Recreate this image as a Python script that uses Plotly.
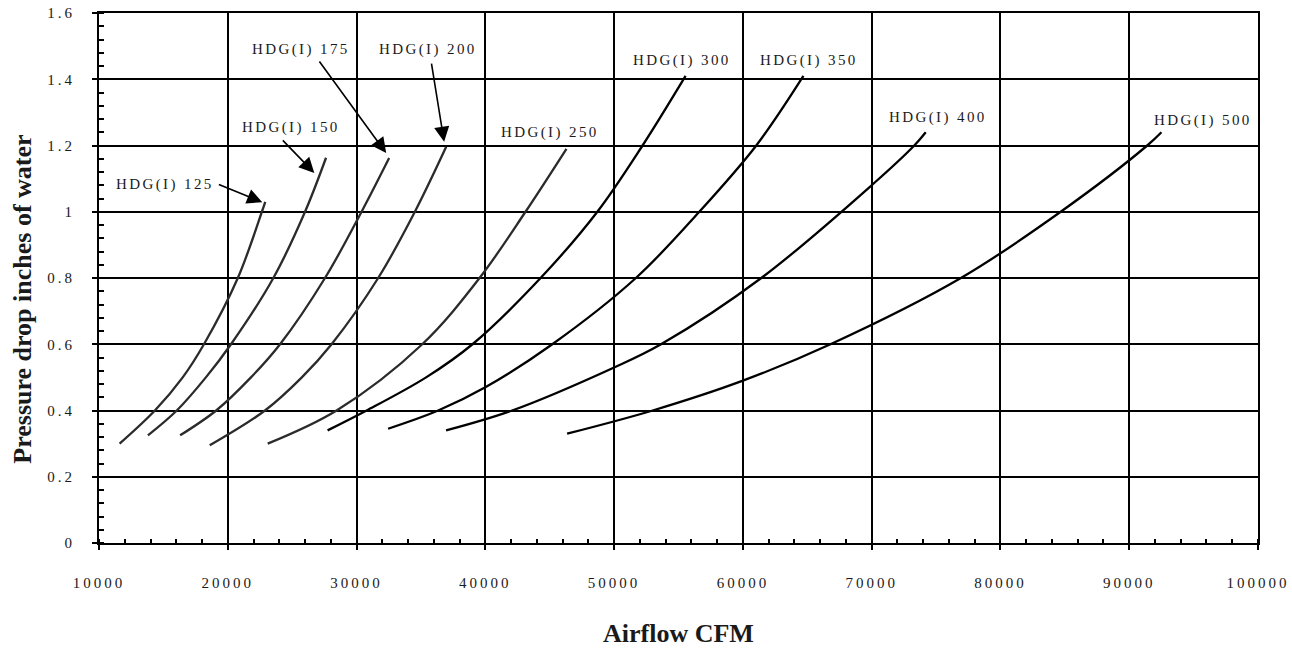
import plotly.graph_objects as go

# ---- data ----
models = ["HDG(I) 125", "HDG(I) 150", "HDG(I) 175", "HDG(I) 200", "HDG(I) 250",
          "HDG(I) 300", "HDG(I) 350", "HDG(I) 400", "HDG(I) 500"]

cfm_125 = [11600, 14340, 16500, 18150, 20780, 22650, 22910]
dp_125 = [0.30, 0.40, 0.50, 0.60, 0.80, 1.00, 1.03]

cfm_150 = [13800, 16040, 18300, 20250, 23540, 26000, 27630]
dp_150 = [0.325, 0.40, 0.50, 0.60, 0.80, 1.00, 1.163]

cfm_175 = [16300, 19100, 21800, 24060, 27550, 30390, 32530]
dp_175 = [0.325, 0.40, 0.50, 0.60, 0.80, 1.00, 1.162]

cfm_200 = [18600, 22890, 25750, 28060, 31680, 34530, 36960]
dp_200 = [0.295, 0.40, 0.50, 0.60, 0.80, 1.00, 1.196]

cfm_250 = [23100, 28450, 35100, 39550, 43120, 46300]
dp_250 = [0.30, 0.40, 0.60, 0.80, 1.00, 1.19]

cfm_300 = [27750, 30780, 35400, 39000, 44290, 48700, 52210, 55550]
dp_300 = [0.34, 0.40, 0.50, 0.60, 0.80, 1.00, 1.20, 1.41]

cfm_350 = [32450, 36340, 40000, 45200, 51690, 56620, 61040, 64700]
dp_350 = [0.345, 0.40, 0.47, 0.60, 0.80, 1.00, 1.20, 1.41]

cfm_400 = [36950, 42080, 50000, 53640, 61430, 70000, 73310, 74200]
dp_400 = [0.34, 0.40, 0.53, 0.60, 0.80, 1.08, 1.20, 1.24]

cfm_500 = [46350, 53000, 60000, 66800, 76930, 84680, 91400, 92500]
dp_500 = [0.33, 0.40, 0.49, 0.60, 0.80, 1.00, 1.20, 1.24]

x_tick_vals = [10000, 20000, 30000, 40000, 50000, 60000, 70000, 80000, 90000, 100000]
x_tick_text = ["10000", "20000", "30000", "40000", "50000", "60000", "70000", "80000", "90000", "100000"]
y_tick_vals = [0, 0.2, 0.4, 0.6, 0.8, 1.0, 1.2, 1.4, 1.6]
y_tick_text = ["0", "0.2", "0.4", "0.6", "0.8", "1", "1.2", "1.4", "1.6"]

x_title = "Airflow CFM"
y_title = "Pressure drop inches of water"

series = [
    (cfm_125, dp_125), (cfm_150, dp_150), (cfm_175, dp_175), (cfm_200, dp_200),
    (cfm_250, dp_250), (cfm_300, dp_300), (cfm_350, dp_350), (cfm_400, dp_400),
    (cfm_500, dp_500),
]

SERIF = "Liberation Serif, Times New Roman, serif"
INK = "#1a1a1a"

fig = go.Figure()
for i, (name, (xs, ys)) in enumerate(zip(models, series)):
    color = "#2b2b2b" if i < 5 else "#000000"
    fig.add_trace(go.Scatter(
        x=xs, y=ys, mode="lines", name=name,
        line=dict(color=color, width=2.3, shape="spline", smoothing=1.0),
        showlegend=False, hoverinfo="x+y+name",
    ))

# label positions (data coordinates) -- placement only
label_pos = {
    "HDG(I) 125": (15120, 1.081),
    "HDG(I) 150": (24900, 1.253),
    "HDG(I) 175": (25670, 1.491),
    "HDG(I) 200": (35560, 1.491),
    "HDG(I) 250": (44990, 1.238),
    "HDG(I) 300": (55270, 1.458),
    "HDG(I) 350": (65160, 1.458),
    "HDG(I) 400": (75170, 1.286),
    "HDG(I) 500": (95760, 1.274),
}
for name in models:
    lx, ly = label_pos[name]
    fig.add_annotation(x=lx, y=ly, text=name, showarrow=False,
                       font=dict(family=SERIF, size=15, color=INK),
                       xanchor="center", yanchor="middle")

# arrows: (tail, head) in data coordinates
arrows = [
    ((19190, 1.084), (22680, 1.029)),
    ((24160, 1.220), (26720, 1.117)),
    ((27030, 1.458), (32300, 1.177)),
    ((35800, 1.452), (36800, 1.211)),
]
for (tx, ty), (hx, hy) in arrows:
    fig.add_annotation(x=hx, y=hy, ax=tx, ay=ty, axref="x", ayref="y",
                       xref="x", yref="y", text="", showarrow=True,
                       arrowhead=2, arrowsize=1.9, arrowwidth=1.6,
                       arrowcolor="#000000", standoff=0, startstandoff=0)

# axis titles
fig.add_annotation(x=-0.066, y=0.46, xref="paper", yref="paper",
                   text="<b>" + y_title + "</b>", textangle=-90, showarrow=False,
                   font=dict(family=SERIF, size=26, color=INK),
                   xanchor="center", yanchor="middle")
fig.add_annotation(x=0.5, y=-0.17, xref="paper", yref="paper",
                   text="<b>" + x_title + "</b>", showarrow=False,
                   font=dict(family=SERIF, size=26, color=INK),
                   xanchor="center", yanchor="middle")

fig.update_xaxes(
    range=[10000, 100000], tickvals=x_tick_vals, ticktext=x_tick_text,
    showline=True, linecolor="black", linewidth=2, mirror=True,
    showgrid=True, gridcolor="black", gridwidth=2, zeroline=False,
    ticks="outside", ticklen=5, tickwidth=2, tickcolor="black",
    ticklabelstandoff=20, automargin=False,
    tickfont=dict(family=SERIF, size=15, color=INK),
    minor=dict(dtick=2000, tick0=10000, ticks="inside", ticklen=4, tickwidth=2,
               tickcolor="black", showgrid=False),
)
fig.update_yaxes(
    range=[0, 1.6], tickvals=y_tick_vals, ticktext=y_tick_text,
    showline=True, linecolor="black", linewidth=2, mirror=True,
    showgrid=True, gridcolor="black", gridwidth=2, zeroline=False,
    ticks="outside", ticklen=5, tickwidth=2, tickcolor="black",
    ticklabelstandoff=14, automargin=False,
    tickfont=dict(family=SERIF, size=15, color=INK),
    minor=dict(dtick=0.04, tick0=0, ticks="inside", ticklen=5, tickwidth=2,
               tickcolor="black", showgrid=False),
)

fig.update_layout(
    width=1292, height=650,
    margin=dict(l=99, r=34, t=13, b=107, pad=0, autoexpand=False),
    paper_bgcolor="white", plot_bgcolor="white",
    font=dict(family=SERIF, color=INK),
)

spacing_js = """
document.body.style.margin = '0';
document.body.style.padding = '0';
var gd = document.getElementById('{plot_id}');
function spaceText(){
  gd.querySelectorAll('.xtick text, .ytick text').forEach(function(t){ t.style.letterSpacing = '3px'; });
  gd.querySelectorAll('.annotation-text').forEach(function(t){
    if ((t.textContent || '').indexOf('HDG') === 0) { t.style.letterSpacing = '2.4px'; }
  });
}
spaceText();
gd.on('plotly_afterplot', spaceText);
"""

fig.write_html("out.html", post_script=spacing_js, config={"displayModeBar": False})
